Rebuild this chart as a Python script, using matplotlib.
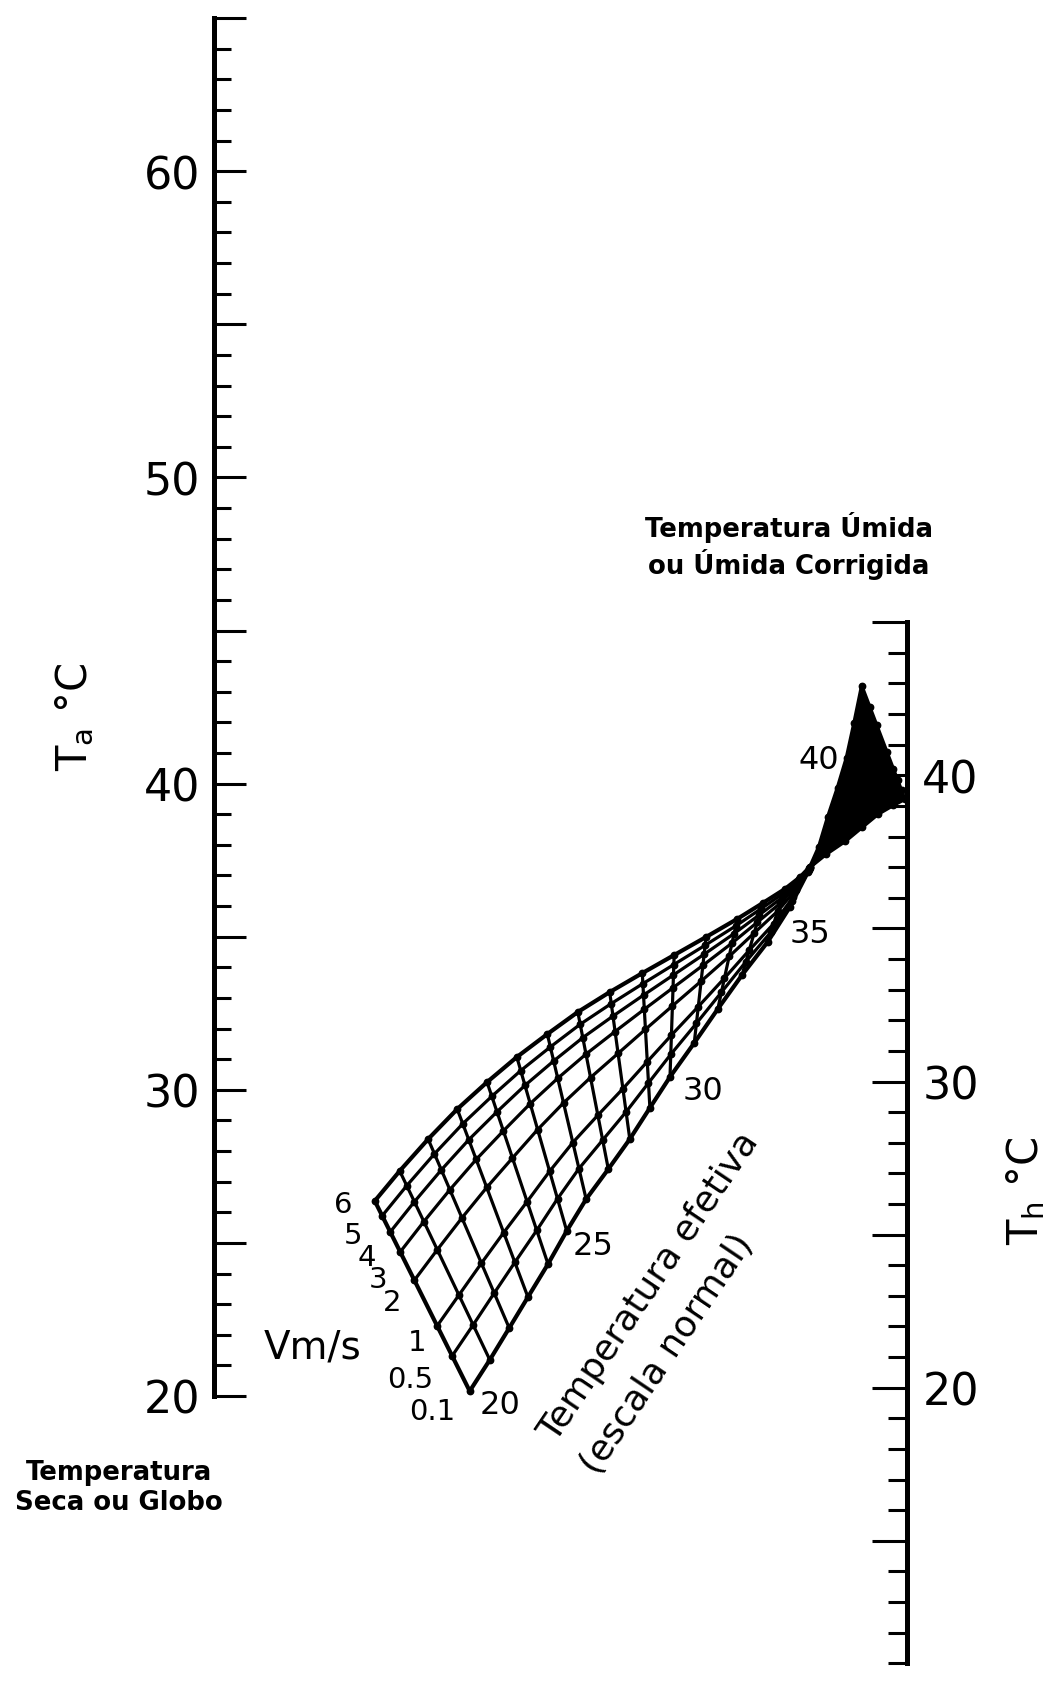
import matplotlib
matplotlib.use("Agg")
import matplotlib.pyplot as plt
import numpy as np
from matplotlib.ticker import MultipleLocator, FuncFormatter

# effective temperature lines of the net
et_values = list(range(20, 43))

# air speed curves (m/s) and where each crosses an ET line
# (0 = end on the 0.1 m/s curve, 1 = end on the 6 m/s curve)
speeds = ["0.1", "0.5", "1", "2", "3", "4", "5", "6"]
speed_frac = [0.0, 0.185, 0.343, 0.583, 0.732, 0.837, 0.922, 1.0]

# end nodes of each ET line:
# position between the scales (0 = Ta scale, 1 = Th scale), height on the Ta scale (°C)
slow_pos = [0.369, 0.398, 0.426, 0.453, 0.482, 0.509, 0.537, 0.569, 0.600, 0.629,
            0.658, 0.693, 0.727, 0.762, 0.799, 0.831, 0.857, 0.873, 0.886, 0.900,
            0.913, 0.924, 0.935]
slow_ta = [20.16, 21.18, 22.22, 23.23, 24.31, 25.39, 26.43, 27.41, 28.39, 29.41,
           30.42, 31.53, 32.64, 33.75, 34.83, 35.97, 37.11, 37.93, 38.91, 39.86,
           40.84, 41.98, 43.19]
fast_pos = [0.232, 0.268, 0.309, 0.351, 0.394, 0.437, 0.481, 0.525, 0.571, 0.618,
            0.664, 0.710, 0.755, 0.792, 0.824, 0.846, 0.860, 0.883, 0.911, 0.935,
            0.958, 0.980, 0.997]
fast_ta = [26.37, 27.35, 28.39, 29.37, 30.25, 31.07, 31.82, 32.54, 33.19, 33.81,
           34.40, 34.99, 35.58, 36.10, 36.56, 36.95, 37.28, 37.70, 38.13, 38.58,
           39.01, 39.30, 39.50]

et_labels = [20, 25, 30, 35, 40]

# the crowded part of the net around the crossing prints solid black
solid_from, solid_to = 35, 42

ta_min, ta_max = 20, 65
th_min, th_max = 11, 45
th_shift = 0.27  # Th scale sits a little higher than the Ta scale

W, H = 1062, 1690
fig = plt.figure(figsize=(W / 100, H / 100), dpi=100)
ax = fig.add_axes([0, 0, 1, 1])
ax.set_xlim(-214 / 693, (W - 214) / 693)
ax.set_ylim(20 - 293 / 30.62, 20 + 1397 / 30.62)
ax.axis("off")

slow = np.column_stack([slow_pos, slow_ta])
fast = np.column_stack([fast_pos, fast_ta])
frac = np.array(speed_frac)
nodes = slow[:, None, :] + frac[None, :, None] * (fast - slow)[:, None, :]

# solid patch around the crossing
i0, i1 = et_values.index(solid_from), et_values.index(solid_to)
outline = np.vstack([slow[i0:i1 + 1], fast[i0:i1 + 1][::-1]])
ax.fill(outline[:, 0], outline[:, 1], color="k", lw=0)

# ET lines
for i, et in enumerate(et_values):
    lw = 3.0 if et == 20 else 2.3
    ax.plot(nodes[i, :, 0], nodes[i, :, 1], color="k", lw=lw, solid_capstyle="round")
# speed curves
for j in range(len(speeds)):
    lw = 3.0 if j in (0, len(speeds) - 1) else 2.3
    ax.plot(nodes[:, j, 0], nodes[:, j, 1], color="k", lw=lw, solid_joinstyle="round")
ax.plot(nodes[..., 0].ravel(), nodes[..., 1].ravel(), "o", color="k", ms=4.6)

# speed labels next to the ET 20 line
speed_off = [(-27, -14.5), (-30, -16.5), (-14.5, -11.5), (-16, -16),
             (-16, -19.5), (-17, -18), (-21, -14), (-23, -2)]
for j, s in enumerate(speeds):
    ax.annotate(s, nodes[0, j], xytext=speed_off[j], textcoords="offset points",
                ha="center", va="center", fontsize=21)

# ET labels on the 0.1 m/s curve
et_off = {20: (21.6, -9.4), 25: (18.7, -10.8), 30: (23.8, -10), 35: (14.4, -19.4), 40: (-20, -1.5)}
for et in et_labels:
    i = et_values.index(et)
    ax.annotate(str(et), slow[i], xytext=et_off[et], textcoords="offset points",
                ha="center", va="center", fontsize=23)


def fig_frac(x, y):
    return fig.transFigure.inverted().transform(ax.transData.transform((x, y)))


def only_tens(v, p):
    return f"{v:.0f}" if round(v) % 10 == 0 else ""


# Ta scale
x0, y0 = fig_frac(0, ta_min)
_, y1 = fig_frac(0, ta_max)
axl = fig.add_axes([x0, y0, 0.05, y1 - y0])
axl.set_ylim(ta_min, ta_max)
axl.patch.set_visible(False)
for s in ("top", "right", "bottom"):
    axl.spines[s].set_visible(False)
axl.spines["left"].set_linewidth(3.6)
axl.set_xticks([])
axl.yaxis.set_major_locator(MultipleLocator(5))
axl.yaxis.set_minor_locator(MultipleLocator(1))
axl.yaxis.set_major_formatter(FuncFormatter(only_tens))
axl.tick_params(axis="y", which="major", direction="in", length=23, width=2.2, pad=10, labelsize=32)
axl.tick_params(axis="y", which="minor", direction="in", length=12, width=2.2)

# Th scale
x1, yb = fig_frac(1, th_min + th_shift)
_, yt = fig_frac(1, th_max + th_shift)
axr = fig.add_axes([x1 - 0.05, yb, 0.05, yt - yb])
axr.set_ylim(th_min, th_max)
axr.patch.set_visible(False)
for s in ("top", "left", "bottom"):
    axr.spines[s].set_visible(False)
axr.spines["right"].set_linewidth(3.6)
axr.set_xticks([])
axr.yaxis.tick_right()
axr.yaxis.set_major_locator(MultipleLocator(5))
axr.yaxis.set_minor_locator(MultipleLocator(1))
axr.yaxis.set_major_formatter(FuncFormatter(only_tens))
axr.tick_params(axis="y", which="major", direction="in", length=25, width=2.2, pad=11, labelsize=32)
axr.tick_params(axis="y", which="minor", direction="in", length=14, width=2.2)


def px(x, y):
    return x / W, 1 - y / H


fig.text(*px(75, 717), "T$_\\mathregular{a}$ °C", rotation=90, ha="center", va="center", fontsize=30)
fig.text(*px(1026, 1191), "T$_\\mathregular{h}$ °C", rotation=90, ha="center", va="center", fontsize=30)
fig.text(*px(313, 1348), "Vm/s", ha="center", va="center", fontsize=28)

fig.text(*px(789, 546), "Temperatura Úmida\nou Úmida Corrigida", ha="center", va="center",
         fontsize=18.7, fontweight="bold", linespacing=1.22)
fig.text(*px(119, 1488), "Temperatura\nSeca ou Globo", ha="center", va="center",
         fontsize=18.7, fontweight="bold", linespacing=1.22)

fig.text(*px(547, 1438), "Temperatura efetiva", rotation=56, rotation_mode="anchor",
         ha="left", va="center", fontsize=26)
fig.text(*px(589, 1471), "(escala normal)", rotation=56, rotation_mode="anchor",
         ha="left", va="center", fontsize=26)

fig.savefig("out.png", dpi=100, facecolor="white")
